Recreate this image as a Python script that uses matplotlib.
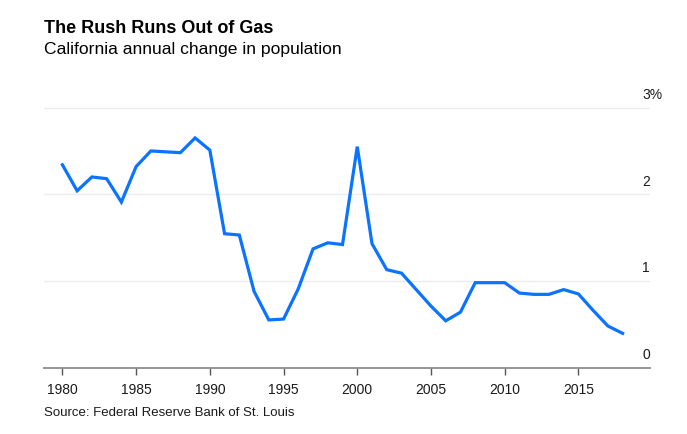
import matplotlib.pyplot as plt
import matplotlib.transforms as mtransforms

plt.rcParams['font.family'] = ['Liberation Sans', 'DejaVu Sans']

# California annual change in population (%)
years = list(range(1980, 2019))
change = [2.34, 2.04, 2.20, 2.18, 1.91, 2.32, 2.50, 2.49, 2.48, 2.65,
          2.51, 1.545, 1.53, 0.88, 0.55, 0.56, 0.91, 1.37, 1.44, 1.42,
          2.55, 1.43, 1.13, 1.09, 0.90, 0.71, 0.54, 0.64, 0.98, 0.98,
          0.98, 0.86, 0.845, 0.845, 0.90, 0.85, 0.66, 0.48, 0.395]

xticks = [1980, 1985, 1990, 1995, 2000, 2005, 2010, 2015]
yticks = [0, 1, 2, 3]
ylabels = ['0', '1', '2', '3%']

fig = plt.figure(figsize=(6.87, 4.34), dpi=100)
ax = fig.add_axes([0.064, 0.153, 0.882, 0.619])

ax.plot(years, change, color='#0a73ff', linewidth=2.3, solid_joinstyle='miter', zorder=3)

ax.set_xlim(1978.75, 2019.85)
ax.set_ylim(0, 3.1)

# gridlines
for v in yticks[1:]:
    ax.axhline(v, color='#ececec', linewidth=1.0, zorder=1)

for s in ['top', 'right', 'left']:
    ax.spines[s].set_visible(False)
ax.spines['bottom'].set_color('#8c8c8c')
ax.spines['bottom'].set_linewidth(1.3)

ax.set_xticks(xticks)
ax.set_xticklabels([str(x) for x in xticks])
ax.tick_params(axis='x', direction='out', length=5, width=1, color='#555555',
               labelsize=10, pad=6, labelcolor='#1a1a1a')
ax.set_yticks([])

# right-side value labels, sitting above the gridlines
trans = mtransforms.blended_transform_factory(ax.transAxes, ax.transData)
for v, lab in zip(yticks, ylabels):
    ax.annotate(lab, xy=(0.987, v), xycoords=trans, xytext=(0, 4),
                textcoords='offset points', ha='left', va='bottom',
                fontsize=10, color='#1a1a1a')

fig.text(0.064, 0.935, 'The Rush Runs Out of Gas', fontsize=13, fontweight='bold',
         ha='left', va='center', color='#000000')
fig.text(0.064, 0.886, 'California annual change in population', fontsize=12.6,
         ha='left', va='center', color='#000000')
fig.text(0.064, 0.048, 'Source: Federal Reserve Bank of St. Louis', fontsize=9.5,
         ha='left', va='center', color='#1a1a1a')

fig.savefig('out.png', dpi=100)
